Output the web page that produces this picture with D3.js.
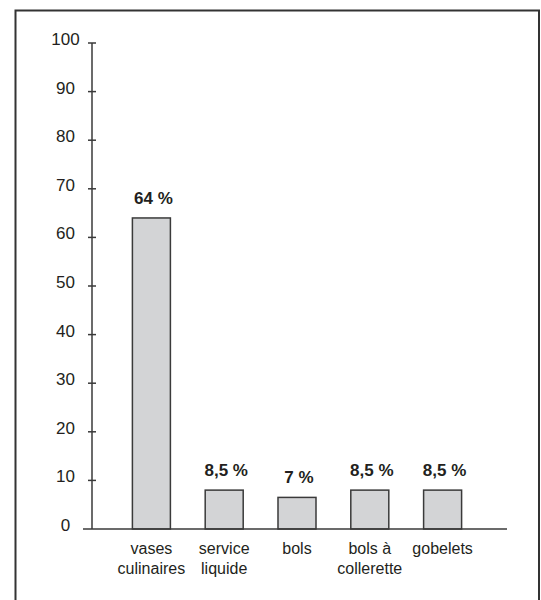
<!DOCTYPE html>
<html>
<head>
<meta charset="utf-8">
<script src="https://cdn.jsdelivr.net/npm/d3@7"></script>
<style>
  html, body { margin: 0; padding: 0; background: #fff; }
  svg { display: block; font-family: "Liberation Sans", Arial, sans-serif; }
</style>
</head>
<body>
<svg id="chart" width="541" height="600"></svg>
<script>
// Data
const categories = [["vases", "culinaires"], ["service", "liquide"], ["bols"], ["bols à", "collerette"], ["gobelets"]];
const values = [64, 8, 6.5, 8, 8];
const valueLabels = ["64 %", "8,5 %", "7 %", "8,5 %", "8,5 %"];
const yTicks = [0, 10, 20, 30, 40, 50, 60, 70, 80, 90, 100];

const svg = d3.select("#chart");
const ink = "#231f20";

// Frame (open at the bottom edge of the page)
svg.append("rect")
  .attr("x", 15.5).attr("y", 10.5)
  .attr("width", 523.5).attr("height", 620)
  .attr("fill", "none").attr("stroke", "#333").attr("stroke-width", 2);

const keys = categories.map(c => c.join(" "));
const x = d3.scaleBand().domain(keys).range([115, 479]).paddingInner(0.478).paddingOuter(0.239);
const y = d3.scaleLinear().domain([0, 100]).range([529, 43]);

// Y axis line
svg.append("line")
  .attr("x1", 92).attr("x2", 92)
  .attr("y1", y(100)).attr("y2", y(0))
  .attr("stroke", "#3a3a3a").attr("stroke-width", 1.5);

// Y ticks
const tg = svg.append("g");
tg.selectAll("line").data(yTicks.filter(d => d > 0)).join("line")
  .attr("x1", 88).attr("x2", 96)
  .attr("y1", d => y(d)).attr("y2", d => y(d))
  .attr("stroke", "#3a3a3a").attr("stroke-width", 1.5);
tg.selectAll("text").data(yTicks).join("text")
  .attr("x", 65.5).attr("y", d => y(d) + 2)
  .attr("text-anchor", "middle")
  .attr("font-size", 17).attr("fill", ink)
  .text(d => d);

// Bars
svg.append("g").selectAll("rect").data(values).join("rect")
  .attr("x", (d, i) => x(keys[i]))
  .attr("y", d => y(d))
  .attr("width", x.bandwidth())
  .attr("height", d => y(0) - y(d))
  .attr("fill", "#d3d4d6").attr("stroke", "#3a3a3a").attr("stroke-width", 1.5);

// X axis line
svg.append("line")
  .attr("x1", 83).attr("x2", 507)
  .attr("y1", y(0)).attr("y2", y(0))
  .attr("stroke", "#3a3a3a").attr("stroke-width", 1.5);

// Value labels
svg.append("g").selectAll("text").data(values).join("text")
  .attr("x", (d, i) => x(keys[i]) + x.bandwidth() / 2 + 2)
  .attr("y", d => y(d) - 14)
  .attr("text-anchor", "middle")
  .attr("font-size", 17).attr("font-weight", "bold").attr("fill", ink)
  .text((d, i) => valueLabels[i]);

// Category labels
const cg = svg.append("g").selectAll("text").data(categories).join("text")
  .attr("x", (d, i) => x(keys[i]) + x.bandwidth() / 2)
  .attr("y", 554)
  .attr("text-anchor", "middle")
  .attr("font-size", 16).attr("fill", ink);
cg.selectAll("tspan").data(d => d).join("tspan")
  .attr("x", function() { return d3.select(this.parentNode).attr("x"); })
  .attr("dy", (d, j) => j === 0 ? 0 : 20)
  .text(d => d);
</script>
</body>
</html>
